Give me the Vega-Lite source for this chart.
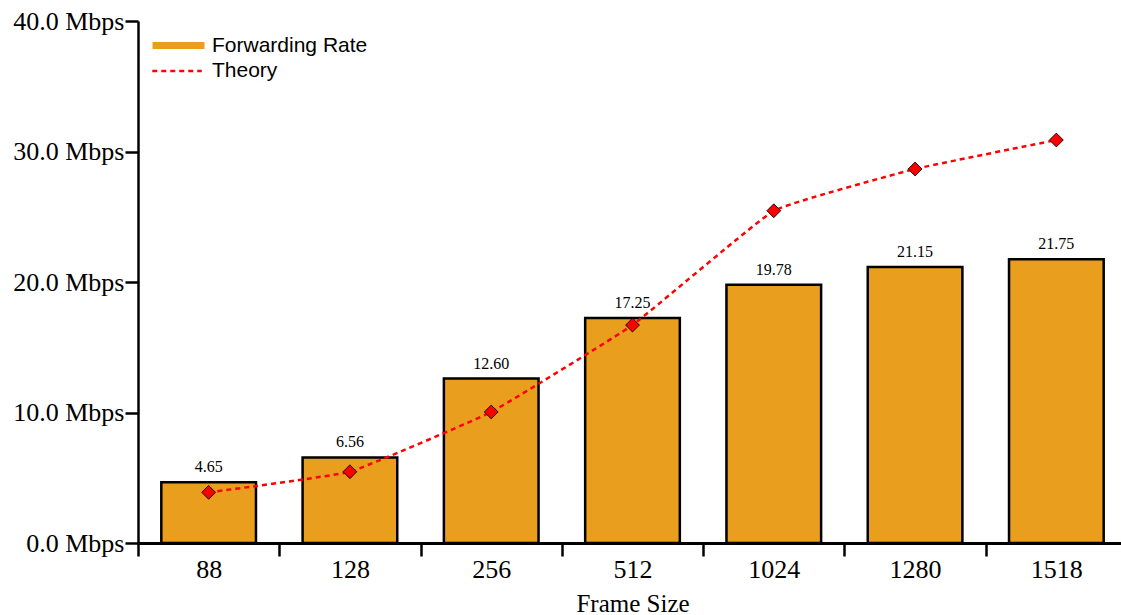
{
  "$schema": "https://vega.github.io/schema/vega-lite/v6.json",
  "width": 989,
  "height": 522,
  "autosize": {"type": "none"},
  "padding": {"left": 138, "top": 21, "right": 0, "bottom": 72},
  "background": "white",
  "config": {"view": {"stroke": null}},
  "data": {
    "values": [
      {"frame": "88", "rate": 4.65, "theory": 3.88},
      {"frame": "128", "rate": 6.56, "theory": 5.46},
      {"frame": "256", "rate": 12.60, "theory": 10.04},
      {"frame": "512", "rate": 17.25, "theory": 16.7},
      {"frame": "1024", "rate": 19.78, "theory": 25.46},
      {"frame": "1280", "rate": 21.15, "theory": 28.66},
      {"frame": "1518", "rate": 21.75, "theory": 30.88}
    ]
  },
  "encoding": {
    "x": {
      "field": "frame",
      "type": "ordinal",
      "sort": null,
      "title": "Frame Size",
      "scale": {"paddingInner": 0, "paddingOuter": 0},
      "axis": {
        "labelAngle": 0,
        "tickBand": "extent",
        "domainColor": "black",
        "domainWidth": 3,
        "tickColor": "black",
        "tickWidth": 2.5,
        "tickSize": 13,
        "labelFont": "Liberation Serif",
        "labelFontSize": 26,
        "labelColor": "black",
        "labelPadding": 0,
        "titleFont": "Liberation Serif",
        "titleFontSize": 25,
        "titleFontWeight": "normal",
        "titleColor": "black",
        "titlePadding": 9
      }
    }
  },
  "layer": [
    {
      "mark": {"type": "bar", "stroke": "black", "strokeWidth": 2.5, "width": {"band": 0.67}},
      "encoding": {
        "y": {
          "field": "rate",
          "type": "quantitative",
          "title": null,
          "scale": {"domain": [0, 40], "nice": false},
          "axis": {
            "values": [0, 10, 20, 30, 40],
            "labelExpr": "format(datum.value, '.1f') + ' Mbps'",
            "grid": false,
            "domainColor": "black",
            "domainWidth": 2.5,
            "tickColor": "black",
            "tickWidth": 2.5,
            "tickSize": 13,
            "labelFont": "Liberation Serif",
            "labelFontSize": 26,
            "labelColor": "black",
            "labelPadding": 1
          }
        },
        "fill": {
          "datum": "Forwarding Rate",
          "type": "nominal",
          "scale": {"domain": ["Forwarding Rate"], "range": ["#EA9E1E"]},
          "legend": {
            "title": null,
            "orient": "none",
            "legendX": 11,
            "legendY": -5,
            "symbolType": "stroke",
            "symbolSize": 2700,
            "symbolStrokeWidth": 7,
            "symbolStrokeColor": "#EA9E1E",
            "symbolOpacity": 1,
            "labelFont": "Liberation Sans",
            "labelFontSize": 21,
            "labelColor": "black",
            "labelOffset": 4
          }
        }
      }
    },
    {
      "mark": {"type": "text", "baseline": "bottom", "dy": -7, "font": "Liberation Serif", "fontSize": 16, "color": "black"},
      "encoding": {
        "y": {"field": "rate", "type": "quantitative"},
        "text": {"field": "rate", "type": "quantitative", "format": ".2f"}
      }
    },
    {
      "mark": {"type": "line", "interpolate": "cardinal", "tension": 0.7, "color": "#FF0000", "strokeWidth": 2.5},
      "encoding": {
        "y": {"field": "theory", "type": "quantitative"},
        "strokeDash": {
          "datum": "Theory",
          "type": "nominal",
          "scale": {"domain": ["Theory"], "range": [[5, 4]]},
          "legend": {
            "title": null,
            "orient": "none",
            "legendX": 13,
            "legendY": 24,
            "symbolType": "stroke",
            "symbolSize": 2450,
            "symbolStrokeWidth": 2.5,
            "symbolStrokeColor": "#FF0000",
            "symbolOpacity": 1,
            "labelFont": "Liberation Sans",
            "labelFontSize": 21,
            "labelColor": "black",
            "labelOffset": 9
          }
        }
      }
    },
    {
      "mark": {"type": "point", "shape": "diamond", "filled": true, "size": 190, "stroke": "black", "strokeWidth": 0.9, "fill": "#FF0000", "opacity": 1},
      "encoding": {
        "y": {"field": "theory", "type": "quantitative"}
      }
    }
  ]
}
